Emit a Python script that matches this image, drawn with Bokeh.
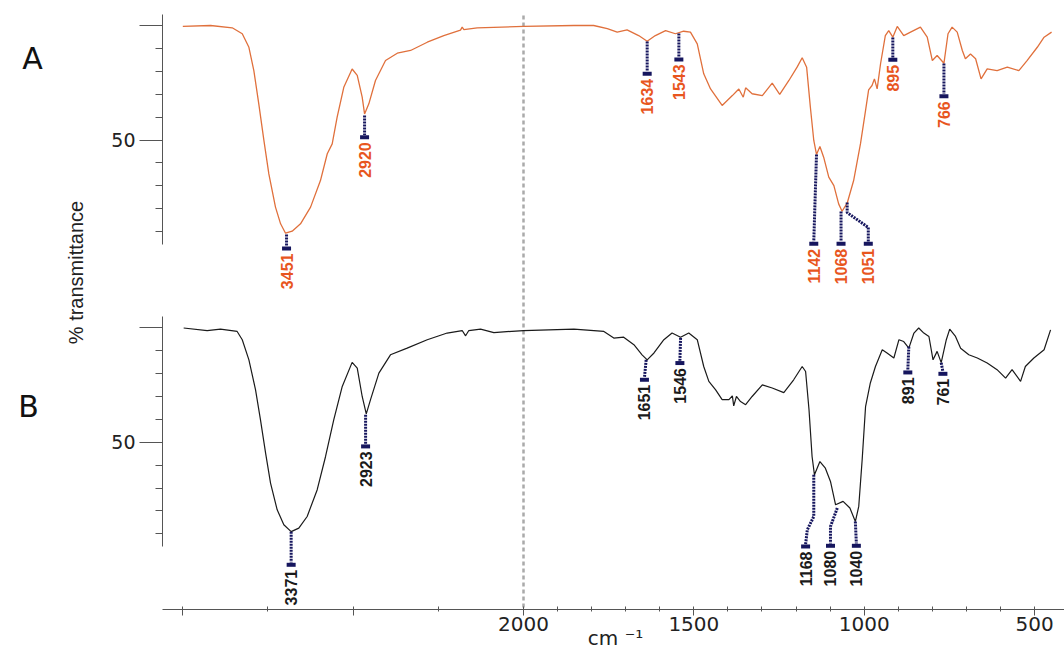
import math
from bokeh.plotting import figure
from bokeh.models import Range1d, LinearAxis, FixedTicker, Label
from bokeh.embed import file_html
from bokeh.resources import INLINE
from bokeh.core.properties import value

# ---------------- data (wavenumber cm-1, % transmittance) ----------------
wn_A = [4000, 3837, 3710, 3651, 3612, 3583, 3554, 3524, 3495, 3456, 3426, 3397, 3358, 3309,
        3250, 3192, 3152, 3123, 3094, 3055, 3006, 2976, 2947, 2933, 2908, 2869, 2810, 2741,
        2663, 2565, 2468, 2370, 2360, 2350, 2272, 2000, 1852, 1794, 1754, 1725, 1696, 1662,
        1637, 1613, 1583, 1554, 1530, 1510, 1490, 1471, 1451, 1417, 1387, 1368, 1355, 1348,
        1329, 1299, 1270, 1248, 1221, 1197, 1182, 1169, 1158, 1148, 1140, 1130, 1119, 1104,
        1089, 1075, 1065, 1050, 1031, 1011, 996, 987, 977, 970, 962, 952, 938, 928, 916, 903,
        884, 864, 835, 815, 800, 786, 766, 754, 742, 727, 712, 703, 688, 673, 657, 639, 610,
        580, 546, 522, 492, 472, 450]
T_A = [99.6, 100, 99, 96.4, 90.5, 80.3, 65.8, 49.8, 35.2, 20.7, 13.4, 9.3, 10.2, 13.4,
       20.7, 32.3, 44, 48.3, 60, 73, 81, 78.2, 68.7, 61.4, 65.8, 76, 84.7, 87.9,
       89.1, 92.7, 95.6, 98.0, 99.3, 98.2, 99, 99.6, 100, 100, 98.6, 97.1, 98.1, 95.6,
       93.1, 95.6, 97.8, 96.4, 97.5, 97.1, 92, 78.9, 72.3, 65.1, 69.4, 72.3, 68.7, 72.8,
       70.2, 69.4, 74.8, 69.9, 76, 81.8, 85.9, 81.8, 64.3, 49.8, 43.7, 47.2, 42.5, 33.8,
       30.1, 22.1, 18.9, 22.4, 32.3, 48.3, 62.9, 71.9, 73.8, 76.7, 72.3, 83.3, 95.6, 97.8, 94.9, 99.6,
       95.6, 97.1, 99.3, 94.9, 84.7, 86.9, 83.5, 96.4, 99.3, 97.1, 89.1, 85.5, 87.6, 85.5, 76.7, 81.1, 80.3,
       81.8, 80.3, 84.7, 90.5, 94.9, 97.1]

wn_B = [3995, 3857, 3779, 3681, 3651, 3612, 3573, 3544, 3514, 3485, 3446, 3407, 3364, 3319,
        3270, 3211, 3162, 3114, 3064, 3006, 2976, 2947, 2923, 2898, 2849, 2781, 2683, 2565,
        2448, 2360, 2340, 2321, 2252, 2174, 2000, 1852, 1764, 1735, 1706, 1676, 1652, 1637,
        1617, 1588, 1564, 1539, 1515, 1490, 1471, 1456, 1436, 1417, 1397, 1387, 1383, 1375,
        1363, 1348, 1329, 1299, 1270, 1236, 1207, 1182, 1172, 1162, 1153, 1146, 1130, 1114,
        1099, 1084, 1062, 1042, 1026, 1016, 1006, 996, 982, 967, 947, 933, 913, 898, 884, 869,
        854, 840, 825, 810, 798, 786, 774, 759, 749, 732, 717, 693, 668, 639, 610, 585, 566,
        541, 527, 502, 472, 453]
T_B = [99.9, 98.8, 99.4, 98.4, 94.8, 86, 72.9, 59.8, 45.3, 32.2, 20.5, 14, 11, 12.5,
       17.6, 29.3, 43.8, 59.8, 74.4, 84.9, 82.4, 70, 62.4, 68.6, 80.2, 88.2, 91.1, 94.8,
       97.7, 98.8, 96.5, 98.8, 99.4, 97.9, 98.8, 99.4, 98.4, 95.5, 95.9, 92.6, 88.2, 86,
       89, 94.8, 97.7, 95.9, 97.7, 94.8, 83.1, 76.6, 72.9, 68.6, 68.6, 70.3, 65.9, 70,
       67.8, 66.4, 70, 75.1, 73.7, 71.7, 77.3, 83.1, 80.9, 64.2, 43.8, 35.8, 41.6, 38.7,
       32.9, 22.7, 24.2, 21.3, 15.4, 22, 42.4, 65.6, 75.9, 83.1, 90.4, 89, 86.8, 94.8, 94, 91.1,
       97.7, 99.9, 97.7, 96.2, 86, 89.7, 84.8, 94.8, 99.4, 96.2, 91.1, 88.2, 86.8, 84.6, 81.7, 78, 81.7,
       76.6, 83.1, 86.8, 90.4, 99.1]

# peak annotations: label text, marker position, leader start (on the curve), marker level
peakA_text = ["3451", "2920", "1634", "1543", "1142", "1068", "1051", "895", "766"]
peakA_wn = [3391, 2933, 1637, 1544, 1148, 1068, 988, 916, 766]
peakA_from_wn = [3391, 2933, 1637, 1544, 1140, 1068, 1050, 916, 766]
peakA_from_T = [8.7, 60.7, 93, 96.5, 43.7, 18.8, 22.7, 94.8, 83.4]
peakA_mark_T = [2.6, 51.2, 78.9, 85.2, 4.7, 4.7, 4.7, 85, 69.1]
peakA_bends = [[], [], [], [], [], [], [(1050, 18.3), (988, 11.8)], [], []]

peakB_text = ["3371", "2923", "1651", "1546", "1168", "1080", "1040", "891", "761"]
peakB_wn = [3364, 2927, 1645, 1541, 1172, 1099, 1023, 872, 769]
peakB_from_wn = [3364, 2927, 1640, 1539, 1148, 1079, 1026, 869, 774]
peakB_from_T = [10.9, 62, 86, 95.6, 35.8, 21.3, 15.4, 91.8, 84.7]
peakB_mark_T = [-3.5, 48.2, 77.3, 84.6, 4.5, 4.8, 4.8, 80.5, 79.9]
peakB_bends = [[], [], [], [], [(1148, 17.6), (1167, 11.8)], [(1099, 13.2)], [], [], []]

x_major = [4000, 3000, 2000, 1500, 1000, 500]
x_major_labels = ["", "", "2000", "1500", "1000", "500"]
x_minor = [3500, 2500, 1900, 1800, 1700, 1600, 1400, 1300, 1200, 1100, 900, 800, 700, 600]
y_major = [50, 100]
y_major_labels = ["50", ""]
y_minor = [10, 20, 30, 40, 60, 70, 80, 90]

# ---------------- styling / layout ----------------
ORANGE_LINE = "#e0703c"
ORANGE_TEXT = "#e8561e"
BLACK = "#1a1a1a"
NAVY = "#16165e"
AXIS = "#555555"
OFF_B = 132.0                 # vertical offset of spectrum B below A
X_LEFT, X_RIGHT = 3535.1, 412.1   # canvas edges in plotted units
Y_BOT, Y_TOP = -174.67, 110.92
AX_X = 3059.6                 # where the y axes stand
AX_Y = -155.2                 # where the x axis lies
YB_LO, YB_HI = 4.4, 104.8     # extent of each y axis


def u(w):
    """Instrument axis: 4000-2000 cm-1 drawn at half scale."""
    return w if w <= 2000 else 2000 + (w - 2000) / 2.0


p = figure(width=1064, height=654, output_backend="svg", toolbar_location=None,
           x_range=Range1d(X_LEFT, X_RIGHT), y_range=Range1d(Y_BOT, Y_TOP),
           x_axis_location=None, y_axis_location=None,
           min_border_left=0, min_border_right=0, min_border_top=0, min_border_bottom=0)
p.grid.visible = False
p.outline_line_color = None

# x axis
xa = LinearAxis(fixed_location=AX_Y, bounds=(AX_X, X_RIGHT),
                ticker=FixedTicker(ticks=[u(t) for t in x_major], minor_ticks=[u(t) for t in x_minor]),
                major_label_overrides={u(t): l for t, l in zip(x_major, x_major_labels)})
xa.axis_line_color = AXIS
xa.major_tick_line_color = AXIS
xa.minor_tick_line_color = AXIS
xa.major_tick_in = 3
xa.major_tick_out = 6
xa.minor_tick_in = 3
xa.minor_tick_out = 2
xa.major_label_standoff = 1
xa.major_label_text_font = "DejaVu Sans"
xa.major_label_text_font_size = "20px"
xa.major_label_text_color = "#222222"
p.add_layout(xa, "below")

# two y axes (A and B)
for off in (0.0, OFF_B):
    ax = LinearAxis(fixed_location=AX_X, bounds=(YB_LO - off, YB_HI - off),
                    ticker=FixedTicker(ticks=[t - off for t in y_major],
                                       minor_ticks=[t - off for t in y_minor]),
                    major_label_overrides={t - off: l for t, l in zip(y_major, y_major_labels)})
    ax.axis_line_color = AXIS
    ax.major_tick_line_color = AXIS
    ax.minor_tick_line_color = AXIS
    ax.major_tick_in = 0
    ax.major_tick_out = 23
    ax.minor_tick_in = 0
    ax.minor_tick_out = 7
    ax.major_label_standoff = 4
    ax.major_label_text_font = "DejaVu Sans"
    ax.major_label_text_font_size = "19px"
    ax.major_label_text_color = "#222222"
    p.add_layout(ax, "left")

# scale change marker at 2000 cm-1
p.segment(x0=[2000], y0=[AX_Y + 1], x1=[2000], y1=[YB_HI],
          line_color="#aaaaaa", line_width=2.5, line_dash="4 3")

# spectra
p.line([u(w) for w in wn_A], T_A, line_color=ORANGE_LINE, line_width=1.3)
p.line([u(w) for w in wn_B], [t - OFF_B for t in T_B], line_color=BLACK, line_width=1.2)


def annotate(texts, wns, from_wn, from_T, mark_T, bends, off, color):
    xs, ys = [], []
    for fw, ft, w, mt, bd in zip(from_wn, from_T, wns, mark_T, bends):
        px = [u(fw)] + [u(b[0]) for b in bd] + [u(w)]
        py = [ft - off] + [b[1] - off for b in bd] + [mt + 1.0 - off]
        xs.append(px)
        ys.append(py)
    p.multi_line(xs, ys, line_color=NAVY, line_width=3, line_dash="2 1")
    mx = [u(w) for w in wns]
    my = [t - off for t in mark_T]
    p.rect(mx, my, width=9, height=4, width_units="screen", height_units="screen",
           fill_color=NAVY, line_color=None)
    p.text(mx, my, text=texts, angle=math.pi / 2, text_align="right",
           text_baseline="middle", y_offset=5, text_color=color,
           text_font=value("Liberation Sans"), text_font_style="bold",
           text_font_size="16px")


annotate(peakA_text, peakA_wn, peakA_from_wn, peakA_from_T, peakA_mark_T, peakA_bends, 0.0, ORANGE_TEXT)
annotate(peakB_text, peakB_wn, peakB_from_wn, peakB_from_T, peakB_mark_T, peakB_bends, OFF_B, BLACK)

# panel letters and axis titles (screen units: from left, from bottom)
for txt, sx, sy in (("A", 32, 596), ("B", 28, 248)):
    p.add_layout(Label(x=sx, y=sy, x_units="screen", y_units="screen", text=txt,
                       text_font="DejaVu Sans", text_font_size="30px", text_color="#111111",
                       text_align="center", text_baseline="middle"))
p.add_layout(Label(x=75, y=382, x_units="screen", y_units="screen", text="% transmittance",
                   angle=math.pi / 2, text_font="Liberation Sans", text_font_size="20px",
                   text_color="#222222", text_align="center", text_baseline="middle"))
p.add_layout(Label(x=615, y=17, x_units="screen", y_units="screen", text="cm \u207b\u00b9",
                   text_font="DejaVu Sans", text_font_size="20px", text_color="#222222",
                   text_align="center", text_baseline="middle"))

open("out.html", "w").write(file_html(p, INLINE))
